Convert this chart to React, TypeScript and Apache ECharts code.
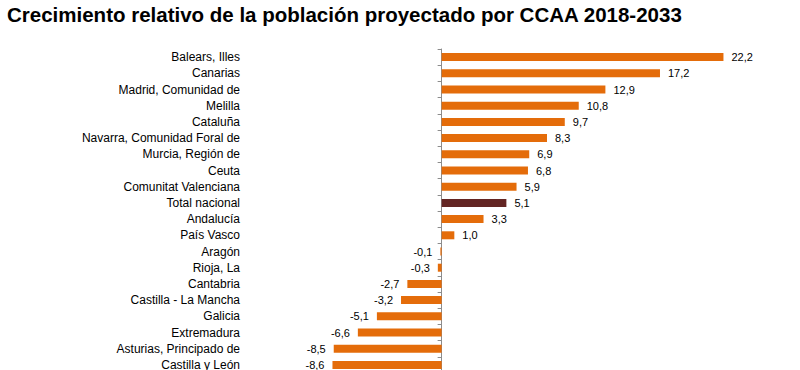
import React, { useEffect, useRef } from "react";
import * as echarts from "echarts";

const titleText = "Crecimiento relativo de la población proyectado por CCAA 2018-2033";
const categories = [
  "Balears, Illes",
  "Canarias",
  "Madrid, Comunidad de",
  "Melilla",
  "Cataluña",
  "Navarra, Comunidad Foral de",
  "Murcia, Región de",
  "Ceuta",
  "Comunitat Valenciana",
  "Total nacional",
  "Andalucía",
  "País Vasco",
  "Aragón",
  "Rioja, La",
  "Cantabria",
  "Castilla - La Mancha",
  "Galicia",
  "Extremadura",
  "Asturias, Principado de",
  "Castilla y León",
];
const values = [22.2, 17.2, 12.9, 10.8, 9.7, 8.3, 6.9, 6.8, 5.9, 5.1, 3.3, 1.0, -0.1, -0.3, -2.7, -3.2, -5.1, -6.6, -8.5, -8.6];
const highlight = "Total nacional";

const ORANGE = "#E46C0A";
const DARK = "#632523";

export default function App() {
  const ref = useRef<HTMLDivElement>(null);
  useEffect(() => {
    document.body.style.margin = "0";
    const chart = echarts.init(ref.current!, null, { renderer: "svg" });
    const data = values.map((v, i) => ({
      value: v,
      itemStyle: { color: categories[i] === highlight ? DARK : ORANGE },
      label: { position: v < 0 ? "left" : "right" },
    }));
    chart.setOption({
      animation: false,
      backgroundColor: "#fff",
      title: {
        text: titleText,
        left: 7,
        top: 4,
        padding: 0,
        textStyle: { fontFamily: "Liberation Sans, Arial", fontSize: 20.5, fontWeight: "bold", color: "#000" },
      },
      grid: { left: 302, width: 457, top: 49, height: 324, containLabel: false, outerBoundsMode: "none" },
      xAxis: {
        type: "value",
        min: -11,
        max: 25,
        show: false,
        splitLine: { show: false },
      },
      yAxis: {
        type: "category",
        inverse: true,
        data: categories,
        axisLine: { show: true, onZero: true, lineStyle: { color: "#8C8C8C", width: 1 } },
        axisTick: { show: true, length: 4, lineStyle: { color: "#8C8C8C" } },
        axisLabel: {
          margin: 62,
          fontFamily: "Liberation Sans, Arial",
          fontSize: 12,
          color: "#000",
        },
      },
      series: [
        {
          type: "bar",
          data,
          barWidth: 8,
          label: {
            show: true,
            distance: 8,
            fontFamily: "Liberation Sans, Arial",
            fontSize: 11,
            color: "#000",
            formatter: (p: any) => p.value.toFixed(1).replace(".", ","),
          },
        },
      ],
    });
    return () => chart.dispose();
  }, []);
  return <div ref={ref} style={{ width: 800, height: 370 }} />;
}
